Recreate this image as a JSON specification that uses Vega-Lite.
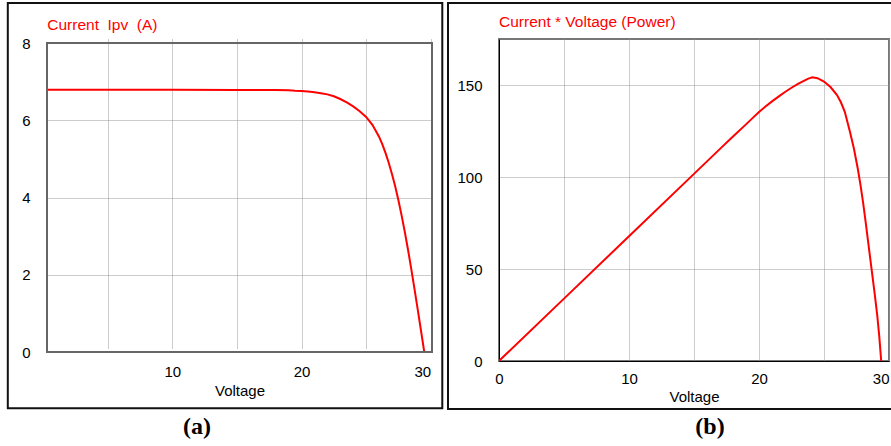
{
  "$schema": "https://vega.github.io/schema/vega-lite/v6.json",
  "padding": {"left": 6, "top": 0, "right": 0, "bottom": 0},
  "spacing": 2,
  "background": "white",
  "config": {
    "font": "Liberation Sans",
    "axis": {
      "labelFont": "Liberation Sans",
      "labelFontSize": 15,
      "labelColor": "#000000",
      "titleFont": "Liberation Sans",
      "titleFontSize": 15,
      "titleFontWeight": "normal",
      "titleColor": "#000000",
      "ticks": false,
      "tickSize": 0,
      "labelOverlap": false,
      "gridColor": "#999999",
      "gridDash": [1, 1],
      "gridWidth": 1
    }
  },
  "hconcat": [
    {
      "width": 385,
      "height": 313,
      "view": {"stroke": null},
      "layer": [
        {
          "data": {"values": [
            {"v": 0.3, "i": 6.79}, {"v": 5, "i": 6.79}, {"v": 10, "i": 6.79}, {"v": 15, "i": 6.785},
            {"v": 18, "i": 6.78}, {"v": 19, "i": 6.775}, {"v": 19.5, "i": 6.765}, {"v": 20, "i": 6.76},
            {"v": 20.5, "i": 6.745}, {"v": 21, "i": 6.725}, {"v": 21.5, "i": 6.70}, {"v": 22, "i": 6.67},
            {"v": 22.5, "i": 6.62}, {"v": 23, "i": 6.55}, {"v": 23.5, "i": 6.46}, {"v": 24, "i": 6.36},
            {"v": 24.5, "i": 6.235}, {"v": 25, "i": 6.085}, {"v": 25.5, "i": 5.875}, {"v": 26, "i": 5.575},
            {"v": 26.25, "i": 5.38}, {"v": 26.5, "i": 5.155}, {"v": 26.75, "i": 4.90}, {"v": 27, "i": 4.61},
            {"v": 27.25, "i": 4.29}, {"v": 27.5, "i": 3.93}, {"v": 27.75, "i": 3.53}, {"v": 28, "i": 3.10},
            {"v": 28.25, "i": 2.635}, {"v": 28.5, "i": 2.14}, {"v": 28.75, "i": 1.62}, {"v": 29, "i": 1.09},
            {"v": 29.25, "i": 0.55}, {"v": 29.5, "i": 0}
          ]},
          "mark": {"type": "line", "color": "#ff0000", "strokeWidth": 2, "clip": true},
          "encoding": {
            "x": {
              "field": "v", "type": "quantitative",
              "scale": {"domain": [0.3, 30.1]},
              "axis": {
                "values": [5, 10, 15, 20, 25, 30],
                "labelExpr": "datum.value % 10 == 0 ? datum.label : ''",
                "labelAlign": {"condition": {"test": "datum.value == 30", "value": "right"}, "value": "center"},
                "title": "Voltage", "grid": true, "domain": false,
                "labelPadding": 12, "titlePadding": 4
              }
            },
            "y": {
              "field": "i", "type": "quantitative",
              "scale": {"domain": [0, 8], "range": [313, 4]},
              "axis": {"values": [0, 2, 4, 6, 8], "title": null, "grid": true, "domain": false, "labelPadding": 17}
            }
          }
        },
        {
          "data": {"values": [{"part": "frame"}]},
          "mark": {"type": "rect", "fill": null, "stroke": "#666666", "strokeWidth": 2},
          "encoding": {
            "x": {"datum": 0.3, "scale": {"domain": [0.3, 30.1]}},
            "x2": {"datum": 30.1},
            "y": {"datum": 8, "scale": {"domain": [0, 8], "range": [313, 4]}},
            "y2": {"datum": 0}
          }
        },
        {
          "data": {"values": [{"part": "box"}]},
          "mark": {"type": "rect", "fill": null, "stroke": "#111111", "strokeWidth": 2},
          "encoding": {
            "x": {"datum": -2.734, "scale": {"domain": [0.3, 30.1]}},
            "x2": {"datum": 30.897},
            "y": {"datum": 9.036, "scale": {"domain": [0, 8], "range": [313, 4]}},
            "y2": {"datum": -1.458}
          }
        },
        {
          "data": {"values": [{"label": "Current\u00a0 Ipv\u00a0 (A)"}]},
          "mark": {"type": "text", "font": "Liberation Sans", "fontSize": 15.5, "baseline": "middle", "align": "left", "color": "#ff0000"},
          "encoding": {
            "x": {"datum": 0.32, "scale": {"domain": [0.3, 30.1]}},
            "y": {"datum": 8.466, "scale": {"domain": [0, 8], "range": [313, 4]}},
            "text": {"field": "label"}
          }
        },
        {
          "data": {"values": [{"label": "(a)"}]},
          "mark": {"type": "text", "font": "Liberation Serif", "fontWeight": "bold", "fontSize": 24, "baseline": "middle", "align": "center", "color": "#000000"},
          "encoding": {
            "x": {"datum": 11.91, "scale": {"domain": [0.3, 30.1]}},
            "y": {"datum": -1.934, "scale": {"domain": [0, 8], "range": [313, 4]}},
            "text": {"field": "label"}
          }
        }
      ]
    },
    {
      "width": 390,
      "height": 322,
      "view": {"stroke": "#777777", "strokeWidth": 2},
      "layer": [
        {
          "data": {"values": [
            {"v": 0, "p": 0}, {"v": 5, "p": 33.9}, {"v": 10, "p": 67.8}, {"v": 15, "p": 101.7},
            {"v": 17, "p": 115.3}, {"v": 18, "p": 122}, {"v": 19, "p": 128.6}, {"v": 19.5, "p": 132},
            {"v": 20, "p": 135.3}, {"v": 20.5, "p": 138.3}, {"v": 21, "p": 141.1}, {"v": 21.5, "p": 143.7},
            {"v": 22, "p": 146.2}, {"v": 22.5, "p": 148.5}, {"v": 23, "p": 150.6}, {"v": 23.6, "p": 152.8},
            {"v": 23.8, "p": 153.5}, {"v": 24.1, "p": 154.2}, {"v": 24.5, "p": 153.7}, {"v": 25, "p": 151.9},
            {"v": 25.5, "p": 148.9}, {"v": 26, "p": 144.5}, {"v": 26.3, "p": 140.6}, {"v": 26.6, "p": 135.4},
            {"v": 27, "p": 124.5}, {"v": 27.3, "p": 115.5}, {"v": 27.6, "p": 104.5}, {"v": 27.8, "p": 96},
            {"v": 28, "p": 86.5}, {"v": 28.2, "p": 75.8}, {"v": 28.4, "p": 64.5}, {"v": 28.65, "p": 50.5},
            {"v": 28.9, "p": 36.5}, {"v": 29.1, "p": 24.5}, {"v": 29.25, "p": 13.5}, {"v": 29.4, "p": 0}
          ]},
          "mark": {"type": "line", "color": "#ff0000", "strokeWidth": 2, "clip": true},
          "encoding": {
            "x": {
              "field": "v", "type": "quantitative",
              "scale": {"domain": [0, 30]},
              "axis": {
                "values": [0, 5, 10, 15, 20, 25, 30],
                "labelExpr": "datum.value % 10 == 0 ? datum.label : ''",
                "labelAlign": {"condition": {"test": "datum.value == 30", "value": "right"}, "value": "center"},
                "title": "Voltage", "grid": true, "domain": true, "domainColor": "#000000", "domainWidth": 1,
                "labelPadding": 10, "titlePadding": 3
              }
            },
            "y": {
              "field": "p", "type": "quantitative",
              "scale": {"domain": [0, 175]},
              "axis": {"values": [0, 50, 100, 150], "title": null, "grid": true, "domain": true, "domainColor": "#000000", "domainWidth": 1, "labelPadding": 17}
            }
          }
        },
        {
          "data": {"values": [{"part": "box"}]},
          "mark": {"type": "rect", "fill": null, "stroke": "#111111", "strokeWidth": 2},
          "encoding": {
            "x": {"datum": -3.923, "scale": {"domain": [0, 30]}},
            "x2": {"datum": 30.31},
            "y": {"datum": 194.57, "scale": {"domain": [0, 175]}},
            "y2": {"datum": -26.09}
          }
        },
        {
          "data": {"values": [{"label": "Current * Voltage (Power)"}]},
          "mark": {"type": "text", "font": "Liberation Sans", "fontSize": 15.5, "baseline": "middle", "align": "left", "color": "#ff0000"},
          "encoding": {
            "x": {"datum": 0, "scale": {"domain": [0, 30]}},
            "y": {"datum": 184.24, "scale": {"domain": [0, 175]}},
            "text": {"field": "label"}
          }
        },
        {
          "data": {"values": [{"label": "(b)"}]},
          "mark": {"type": "text", "font": "Liberation Serif", "fontWeight": "bold", "fontSize": 24, "baseline": "middle", "align": "center", "color": "#000000"},
          "encoding": {
            "x": {"datum": 16.23, "scale": {"domain": [0, 30]}},
            "y": {"datum": -35.87, "scale": {"domain": [0, 175]}},
            "text": {"field": "label"}
          }
        }
      ]
    }
  ]
}
